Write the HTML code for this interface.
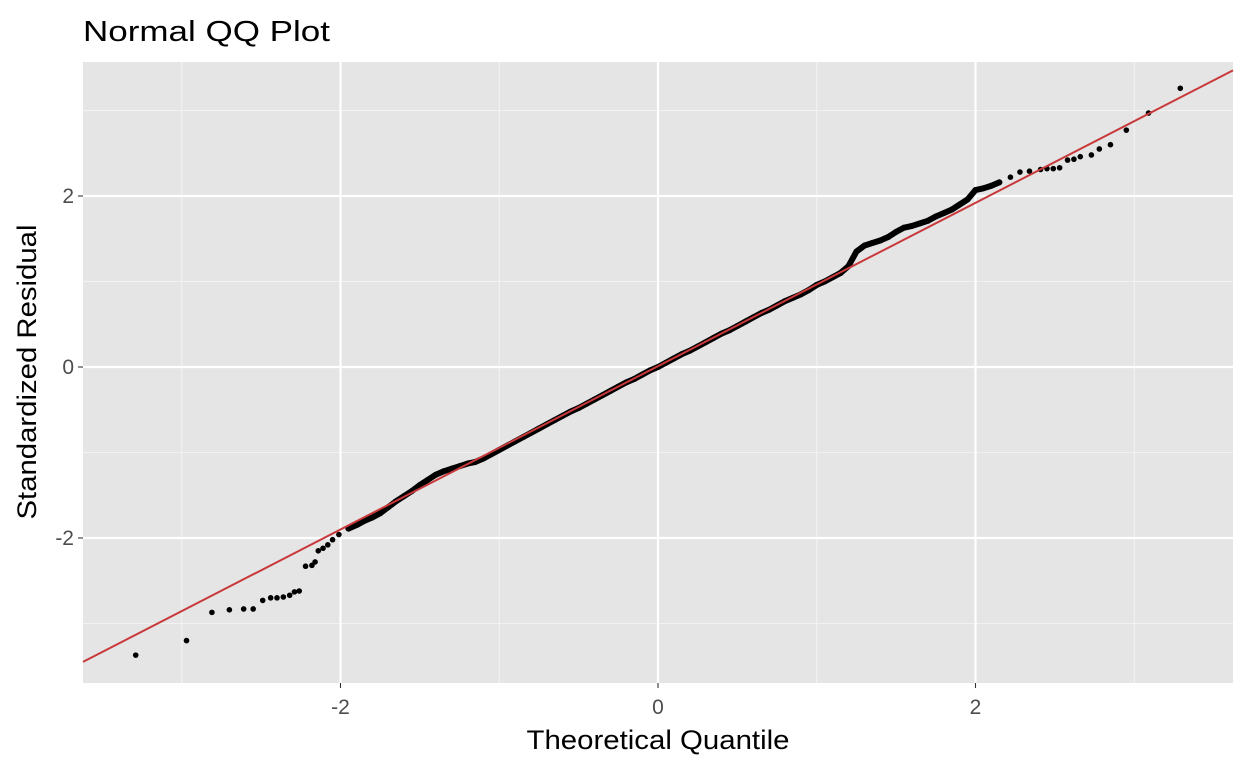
<!DOCTYPE html>
<html><head><meta charset="utf-8"><style>
body{margin:0;background:#fff;}
svg text{font-family:"Liberation Sans",Arial,sans-serif;}
</style></head><body>
<svg id="chart" width="1248" height="768" xmlns="http://www.w3.org/2000/svg">
<text x="83" y="41" font-size="29" fill="#000" textLength="247" lengthAdjust="spacingAndGlyphs">Normal QQ Plot</text>
<rect x="83" y="62" width="1150" height="621" fill="#e5e5e5"/>
<g id="grid"></g>
<g id="marks"></g>
<g id="axes"></g>
<text x="658" y="749" font-size="27" text-anchor="middle" fill="#000" textLength="263" lengthAdjust="spacingAndGlyphs">Theoretical Quantile</text>
<text transform="translate(36,372) rotate(-90)" font-size="27" text-anchor="middle" fill="#000" textLength="295" lengthAdjust="spacingAndGlyphs">Standardized Residual</text>
</svg>
<script>
const xTicks = [-2, 0, 2];
const xMinor = [-3, -1, 1, 3];
const yTicks = [-2, 0, 2];
const yMinor = [-3, -1, 1, 3];
const lineSlope = 0.955;
const lineIntercept = 0.01;
const tailQ = [-3.29,-2.97,-2.81,-2.70,-2.61,-2.55,-2.49,-2.44,-2.40,-2.36,-2.32,-2.29,-2.26,-2.22,-2.18,-2.16,-2.14,-2.11,-2.08,-2.05,-2.01,
  2.22,2.28,2.34,2.41,2.45,2.49,2.53,2.58,2.62,2.66,2.73,2.78,2.85,2.95,3.09,3.29];
const tailR = [-3.37,-3.20,-2.87,-2.84,-2.83,-2.83,-2.73,-2.70,-2.70,-2.69,-2.67,-2.63,-2.62,-2.33,-2.32,-2.28,-2.15,-2.12,-2.08,-2.02,-1.96,
  2.22,2.28,2.29,2.31,2.32,2.32,2.33,2.42,2.43,2.46,2.48,2.55,2.60,2.77,2.97,3.26];
const midQ = [-1.95,-1.9,-1.85,-1.8,-1.75,-1.7,-1.65,-1.6,-1.55,-1.5,-1.45,-1.4,-1.35,-1.3,-1.25,-1.2,-1.15,-1.1,-1.05,-1.0,
 -0.95,-0.9,-0.85,-0.8,-0.75,-0.7,-0.65,-0.6,-0.55,-0.5,-0.45,-0.4,-0.35,-0.3,-0.25,-0.2,-0.15,-0.1,-0.05,0,
 0.05,0.1,0.15,0.2,0.25,0.3,0.35,0.4,0.45,0.5,0.55,0.6,0.65,0.7,0.75,0.8,0.85,0.9,0.95,1.0,
 1.05,1.1,1.15,1.2,1.25,1.3,1.35,1.4,1.45,1.5,1.55,1.6,1.65,1.7,1.75,1.8,1.85,1.9,1.95,2.0,2.05,2.1,2.15];
const midR = [-1.89,-1.85,-1.80,-1.76,-1.71,-1.64,-1.57,-1.51,-1.45,-1.38,-1.32,-1.26,-1.22,-1.19,-1.16,-1.13,-1.11,-1.07,-1.02,-0.97,
 -0.92,-0.87,-0.82,-0.77,-0.72,-0.67,-0.62,-0.57,-0.52,-0.48,-0.43,-0.38,-0.33,-0.28,-0.23,-0.18,-0.14,-0.09,-0.04,0.0,
 0.05,0.10,0.15,0.19,0.24,0.29,0.34,0.39,0.43,0.48,0.53,0.58,0.63,0.67,0.72,0.77,0.81,0.85,0.90,0.96,
 1.00,1.05,1.10,1.18,1.35,1.42,1.45,1.48,1.52,1.58,1.63,1.65,1.68,1.71,1.76,1.80,1.84,1.90,1.96,2.07,2.09,2.12,2.16];

const NS='http://www.w3.org/2000/svg';
const X0=83,X1=1233,Y0=62,Y1=683;
const sx = q => 658 + q*158.75;
const sy = r => 367 - r*85.5;
function mk(tag, attrs, parent){const e=document.createElementNS(NS,tag);for(const k in attrs)e.setAttribute(k,attrs[k]);document.getElementById(parent).appendChild(e);return e;}

xMinor.forEach(v=>{const e=mk('line',{x1:sx(v),x2:sx(v),y1:Y0,y2:Y1,stroke:'#f2f2f2','stroke-width':1.1},'grid');

});
yMinor.forEach(v=>{const e=mk('line',{x1:X0,x2:X1,y1:sy(v),y2:sy(v),stroke:'#f2f2f2','stroke-width':1.1},'grid');

});
xTicks.forEach(v=>{const e=mk('line',{x1:sx(v),x2:sx(v),y1:Y0,y2:Y1,stroke:'#fff','stroke-width':2.2},'grid');


const t=mk('line',{x1:sx(v),x2:sx(v),y1:Y1,y2:Y1+5,stroke:'#333','stroke-width':1.1},'axes');


const l=mk('text',{x:sx(v),y:Y1+31,'font-size':21,'text-anchor':'middle',fill:'#4d4d4d'},'axes');l.textContent=v;

});
yTicks.forEach(v=>{const e=mk('line',{x1:X0,x2:X1,y1:sy(v),y2:sy(v),stroke:'#fff','stroke-width':2.2},'grid');


const t=mk('line',{x1:X0-5,x2:X0,y1:sy(v),y2:sy(v),stroke:'#333','stroke-width':1.1},'axes');


const l=mk('text',{x:X0-9,y:sy(v)+7,'font-size':21,'text-anchor':'end',fill:'#4d4d4d'},'axes');l.textContent=v;

});

const pts=midQ.map((q,i)=>sx(q)+','+sy(midR[i])).join(' ');
const band=mk('polyline',{points:pts,fill:'none',stroke:'#000','stroke-width':6,'stroke-linejoin':'round','stroke-linecap':'round'},'marks');


midQ.forEach((q,i)=>{const c=mk('circle',{cx:sx(q),cy:sy(midR[i]),r:3,fill:'#000'},'marks');

});
tailQ.forEach((q,i)=>{const c=mk('circle',{cx:sx(q),cy:sy(tailR[i]),r:2.8,fill:'#000'},'marks');

});

const qa=(X0-658)/158.75, qb=(X1-658)/158.75;
const ln=mk('line',{x1:X0,y1:sy(lineIntercept+lineSlope*qa),x2:X1,y2:sy(lineIntercept+lineSlope*qb),stroke:'#c9393b','stroke-width':2},'marks');


</script>
</body></html>
